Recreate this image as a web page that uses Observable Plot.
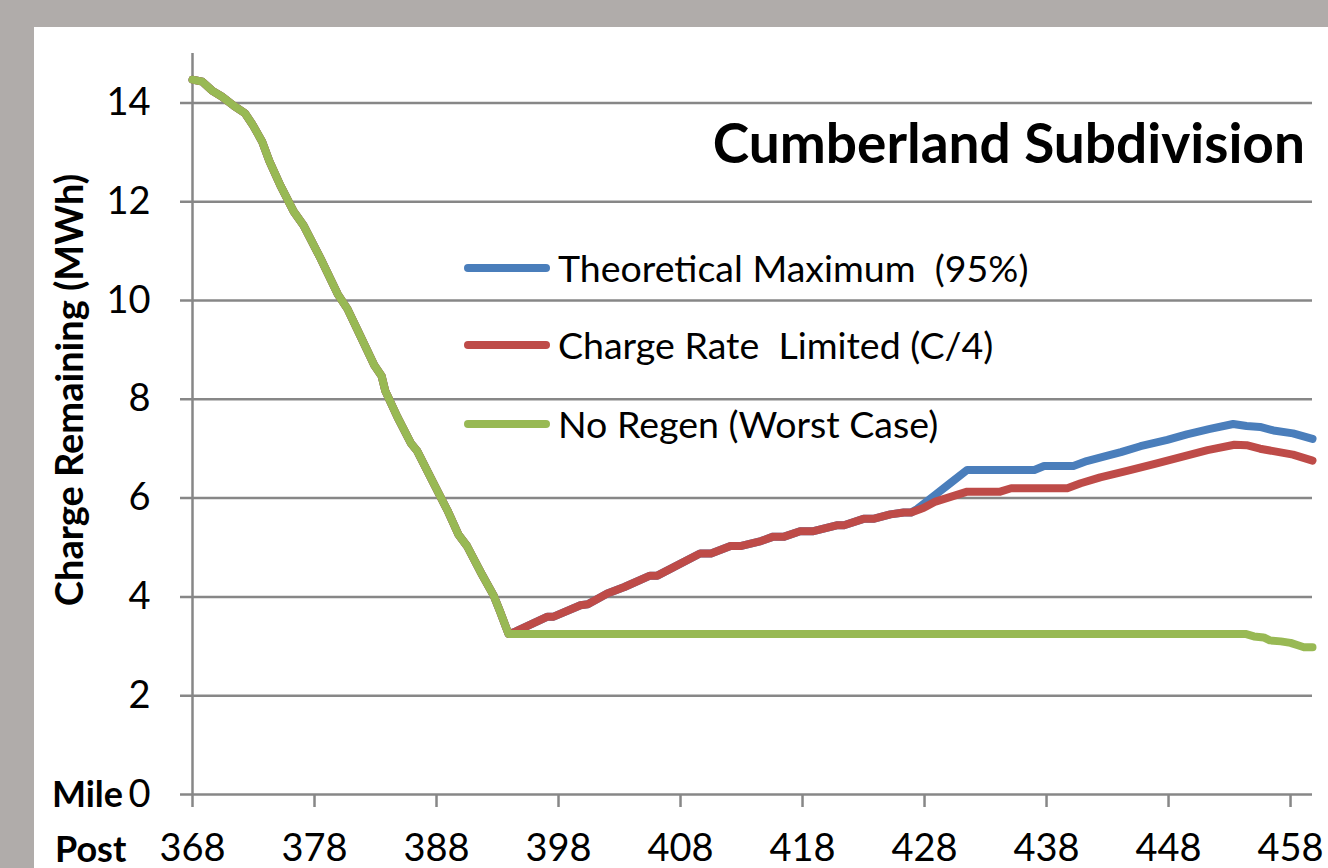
<!DOCTYPE html>
<html>
<head>
<meta charset="utf-8">
<script src="https://cdn.jsdelivr.net/npm/d3@7"></script>
<script src="https://cdn.jsdelivr.net/npm/@observablehq/plot@0.6"></script>
<style>
  html, body { margin: 0; padding: 0; width: 1328px; height: 868px; overflow: hidden; background: #b0acaa; }
  #panel { position: absolute; left: 34px; top: 27px; width: 1294px; height: 841px; background: #ffffff; }
  #chart { position: absolute; left: 0; top: 0; }
</style>
</head>
<body>
<div id="panel"></div>
<div id="chart"></div>
<script>
// ---- Text ----
const chartTitle = "Cumberland Subdivision";
const yTitle = "Charge Remaining (MWh)";
const xTitleTop = "Mile";
const xTitleBottom = "Post";
const seriesNames = ["Theoretical Maximum  (95%)", "Charge Rate  Limited (C/4)", "No Regen (Worst Case)"];
const seriesColors = ["#4a7ebb", "#be4b48", "#98b954"];

// ---- Ticks ----
const xTicks = [368, 378, 388, 398, 408, 418, 428, 438, 448, 458];
const yTicks = [0, 2, 4, 6, 8, 10, 12, 14];

// ---- Data (mile post, MWh remaining) ----
// Descent common to all three scenarios
const descentMiles = [368.0, 368.8, 369.6, 370.4, 371.4, 372.3, 372.9, 373.7, 374.3, 375.2, 376.3, 377.1, 378.5, 379.9, 380.7, 381.8, 382.9, 383.5, 383.8, 384.8, 385.9, 386.4, 387.8, 388.9, 389.8, 390.5, 391.6, 392.7, 393.2, 393.9];
const descentMWh   = [14.47, 14.43, 14.25, 14.13, 13.94, 13.79, 13.57, 13.22, 12.82, 12.33, 11.80, 11.52, 10.85, 10.13, 9.83, 9.26, 8.69, 8.47, 8.17, 7.64, 7.11, 6.96, 6.28, 5.75, 5.26, 5.03, 4.51, 4.02, 3.71, 3.25];

// Theoretical Maximum (95%) after the low point
const maxMiles = [394.5, 397.1, 397.6, 399.8, 400.4, 402.0, 403.4, 405.5, 406.1, 409.6, 410.5, 412.1, 412.9, 414.6, 415.6, 416.5, 417.8, 418.9, 420.8, 421.4, 423.0, 423.8, 425.2, 426.3, 426.9, 427.4, 428.8, 430.1, 431.5, 437.0, 437.8, 440.2, 441.3, 443.0, 444.1, 445.7, 447.9, 449.5, 451.4, 453.3, 454.4, 455.5, 456.6, 458.2, 459.8];
const maxMWh   = [3.30, 3.60, 3.60, 3.83, 3.85, 4.07, 4.20, 4.43, 4.43, 4.88, 4.88, 5.03, 5.03, 5.13, 5.22, 5.22, 5.33, 5.33, 5.45, 5.45, 5.58, 5.58, 5.67, 5.71, 5.71, 5.78, 6.05, 6.30, 6.57, 6.57, 6.65, 6.65, 6.75, 6.86, 6.93, 7.05, 7.18, 7.29, 7.40, 7.50, 7.46, 7.44, 7.37, 7.31, 7.20];

// Charge Rate Limited (C/4) after the low point
const rateMiles = [394.5, 397.1, 397.6, 399.8, 400.4, 402.0, 403.4, 405.5, 406.1, 409.6, 410.5, 412.1, 412.9, 414.6, 415.6, 416.5, 417.8, 418.9, 420.8, 421.4, 423.0, 423.8, 425.2, 426.3, 426.9, 427.9, 428.9, 431.5, 434.2, 435.1, 439.7, 440.8, 442.4, 444.6, 446.8, 449.0, 451.2, 453.4, 454.4, 455.5, 456.6, 458.2, 459.8];
const rateMWh   = [3.30, 3.60, 3.60, 3.83, 3.85, 4.07, 4.20, 4.43, 4.43, 4.88, 4.88, 5.03, 5.03, 5.13, 5.22, 5.22, 5.33, 5.33, 5.45, 5.45, 5.58, 5.58, 5.67, 5.71, 5.71, 5.80, 5.93, 6.13, 6.13, 6.20, 6.20, 6.30, 6.42, 6.55, 6.69, 6.83, 6.97, 7.08, 7.07, 7.00, 6.95, 6.88, 6.76];

// No Regen (Worst Case) after the low point
const noRegenMiles = [454.3, 455.0, 455.8, 456.3, 457.2, 458.0, 458.6, 459.1, 459.8];
const noRegenMWh   = [3.25, 3.20, 3.18, 3.12, 3.10, 3.07, 3.02, 2.98, 2.98];

// ---- Build tables ----
function rows(series, miles, vals) {
  return miles.map((m, i) => ({series, mile: m, mwh: vals[i]}));
}
const descent = rows("", descentMiles, descentMWh);
const maxData = descent.concat(rows(seriesNames[0], maxMiles, maxMWh));
const rateData = descent.concat(rows(seriesNames[1], rateMiles, rateMWh));
const noRegenData = descent.concat(rows(seriesNames[2], noRegenMiles, noRegenMWh));

const FONT = "Lato, 'Open Sans', sans-serif";
const GRID = "#878787";
const LW = 8;

const plot = Plot.plot({
  width: 1328,
  height: 868,
  marginLeft: 192,
  marginRight: 16,
  marginTop: 53,
  marginBottom: 74,
  style: {background: "transparent", fontFamily: FONT, color: "#000", overflow: "visible"},
  x: {domain: [368, 459.8]},
  y: {domain: [0, 15]},
  marks: [
    Plot.ruleY(yTicks, {stroke: GRID, strokeWidth: 2.5, insetLeft: -12}),
    Plot.ruleX([368], {stroke: GRID, strokeWidth: 2.5}),
    Plot.axisX({ticks: xTicks, tickSize: 13, tickPadding: 27, stroke: GRID, strokeWidth: 2.5, fill: "#000", fontSize: 38, label: null, tickFormat: d => String(d)}),
    Plot.axisY({ticks: yTicks, tickSize: 0, tickPadding: 42, fill: "#000", fontSize: 38, label: null, tickFormat: d => String(d)}),
    Plot.line(maxData, {x: "mile", y: "mwh", stroke: seriesColors[0], strokeWidth: LW, strokeLinejoin: "round", strokeLinecap: "round"}),
    Plot.line(rateData, {x: "mile", y: "mwh", stroke: seriesColors[1], strokeWidth: LW, strokeLinejoin: "round", strokeLinecap: "round"}),
    Plot.line(noRegenData, {x: "mile", y: "mwh", stroke: seriesColors[2], strokeWidth: LW, strokeLinejoin: "round", strokeLinecap: "round"})
  ]
});

document.getElementById("chart").appendChild(plot);

// ---- Annotations drawn on the same SVG ----
const svg = d3.select(plot);

svg.append("text")
  .attr("x", 1305).attr("y", 163)
  .attr("text-anchor", "end")
  .attr("font-family", FONT).attr("font-weight", "bold").attr("font-size", 55)
  .attr("fill", "#000")
  .text(chartTitle);

svg.append("text")
  .attr("transform", "translate(70,390) rotate(-90)")
  .attr("text-anchor", "middle")
  .attr("dy", "0.35em")
  .attr("font-family", FONT).attr("font-weight", "bold").attr("font-size", 38)
  .attr("fill", "#000")
  .text(yTitle);

svg.append("text")
  .attr("x", 123).attr("y", 807)
  .attr("text-anchor", "end")
  .attr("font-family", FONT).attr("font-weight", "bold").attr("font-size", 36)
  .attr("fill", "#000")
  .text(xTitleTop);

svg.append("text")
  .attr("x", 55).attr("y", 862)
  .attr("text-anchor", "start")
  .attr("font-family", FONT).attr("font-weight", "bold").attr("font-size", 36)
  .attr("fill", "#000")
  .text(xTitleBottom);

const legendY = [268, 345, 424];
const leg = svg.append("g").attr("text-anchor", "start");
seriesNames.forEach((name, i) => {
  leg.append("line")
    .attr("x1", 468).attr("x2", 546)
    .attr("y1", legendY[i]).attr("y2", legendY[i])
    .attr("stroke", seriesColors[i]).attr("stroke-width", LW).attr("stroke-linecap", "round");
  leg.append("text")
    .attr("x", 558).attr("y", legendY[i]).attr("dy", "0.36em")
    .attr("text-anchor", "start")
    .attr("font-family", FONT).attr("font-size", 37.5)
    .attr("fill", "#000")
    .attr("xml:space", "preserve").style("white-space", "pre")
    .text(name);
});
</script>
</body>
</html>
